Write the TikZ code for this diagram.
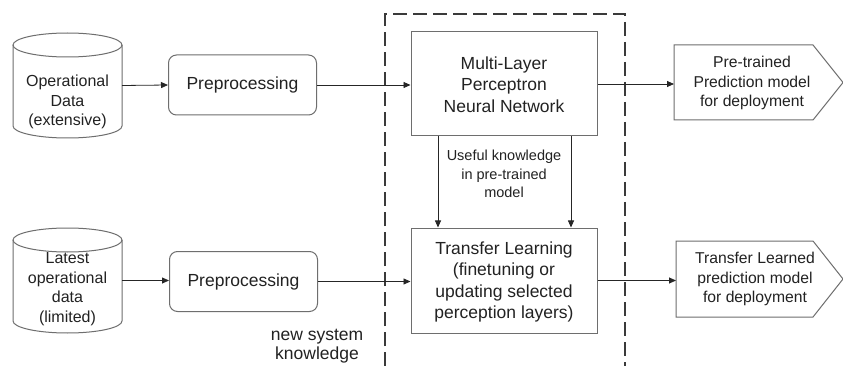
\documentclass[tikz,border=0pt]{standalone}
\usepackage{fontspec}
\setmainfont{Liberation Sans}
\usetikzlibrary{arrows.meta}
\definecolor{bordergray}{HTML}{6E6E6E}
\definecolor{txt}{HTML}{222222}
\definecolor{dashc}{HTML}{3A3A3A}
\tikzset{
  box/.style={draw=bordergray, line width=1pt, minimum width=186pt, minimum height=104pt, inner sep=0pt},
  prebox/.style={draw=bordergray, line width=1pt, rounded corners=8pt, minimum width=148pt, minimum height=60pt, inner sep=0pt, text=txt, font=\fontsize{17.5}{21}\selectfont},
  ghost/.style={inner sep=0pt, outer sep=0pt},
  cyltext/.style={text=txt, align=center, font=\fontsize{16}{19.5}\selectfont},
  bigtext/.style={text=txt, align=center, font=\fontsize{17.5}{21.3}\selectfont},
  outtext/.style={text=txt, align=center, font=\fontsize{15.7}{19.5}\selectfont},
  smalltext/.style={text=txt, align=center, font=\fontsize{14.5}{18.5}\selectfont},
  arr/.style={draw=black!85, line width=0.8pt, -{Triangle[length=7pt,width=6pt]}},
  shapeline/.style={draw=bordergray, line width=1pt},
  frame/.style={draw=dashc, line width=1.8pt, dash pattern=on 14pt off 6pt}
}
\begin{document}
\begin{tikzpicture}[x=1pt,y=-1pt]
\useasboundingbox (0,0) rectangle (843,366);
\fill[white] (0,0) rectangle (843,366);

% dashed frame
\draw[frame] (385,366) -- (385,14) -- (625,14) -- (625,366);

% cylinders
\node[ghost, minimum width=109pt, minimum height=105pt] (c1) at (67.5,85.5) {};
\draw[shapeline, fill=white] (13,45) -- (13,126) arc[start angle=180, end angle=360, x radius=54.5, y radius=-12] -- (122,45);
\draw[shapeline] (67.5,45) ellipse[x radius=54.5, y radius=12];
\node[cyltext] (c1t) at (67.5,102) {Operational\\Data\\(extensive)};

\node[ghost, minimum width=109pt, minimum height=105pt] (c2) at (67.5,280.5) {};
\draw[shapeline, fill=white] (13,240) -- (13,321) arc[start angle=180, end angle=360, x radius=54.5, y radius=-12] -- (122,240);
\draw[shapeline] (67.5,240) ellipse[x radius=54.5, y radius=12];
\node[cyltext] (c2t) at (67.5,289) {Latest\\operational\\data\\(limited)};

% preprocessing
\node[prebox] (p1) at (242.5,85) {Preprocessing};
\node[prebox] (p2) at (243.5,281.5) {Preprocessing};

% main boxes
\node[box] (mlp) at (504,84) {};
\node[bigtext] (mlpt) at (504,84.5) {Multi-Layer\\Perceptron\\Neural Network};
\node[box, minimum height=105pt] (tl) at (504,280.5) {};
\node[bigtext] (tlt) at (504,282) {Transfer  Learning\\(finetuning or\\updating selected\\perception layers)};

% output pentagons
\node[ghost, minimum width=169pt, minimum height=75pt] (o1) at (758.5,82.5) {};
\draw[shapeline] (o1.north west) -- ([xshift=-30pt]o1.north east) -- (o1.east) -- ([xshift=-30pt]o1.south east) -- (o1.south west) -- cycle;
\node[outtext] (o1t) at (752,83) {Pre-trained\\Prediction model\\for deployment};

\node[ghost, minimum width=167pt, minimum height=76pt] (o2) at (759.5,279) {};
\draw[shapeline] (o2.north west) -- ([xshift=-30pt]o2.north east) -- (o2.east) -- ([xshift=-30pt]o2.south east) -- (o2.south west) -- cycle;
\node[outtext] (o2t) at (755,279) {Transfer Learned\\prediction  model\\for deployment};

% labels
\node[smalltext] (uk) at (504,174) {Useful knowledge\\in pre-trained\\model};
\node[bigtext, font=\fontsize{17.5}{19.5}\selectfont] (nsk) at (317,346) {new system\\knowledge};

% connectors
\draw[arr] (c1.east) -- (p1.west);
\draw[arr] (c2.east) -- (c2.east -| p2.west);
\draw[arr] (p1.east) -- (p1.east -| mlp.west);
\draw[arr] (p2.east) -- (p2.east -| tl.west);
\draw[arr] (mlp.east) -- (mlp.east -| o1.west);
\draw[arr] (tl.east) -- (tl.east -| o2.west);
\draw[arr] ([xshift=-66pt]mlp.south) -- ([xshift=-66pt]tl.north);
\draw[arr] ([xshift=67pt]mlp.south) -- ([xshift=67pt]tl.north);
\end{tikzpicture}
\end{document}
